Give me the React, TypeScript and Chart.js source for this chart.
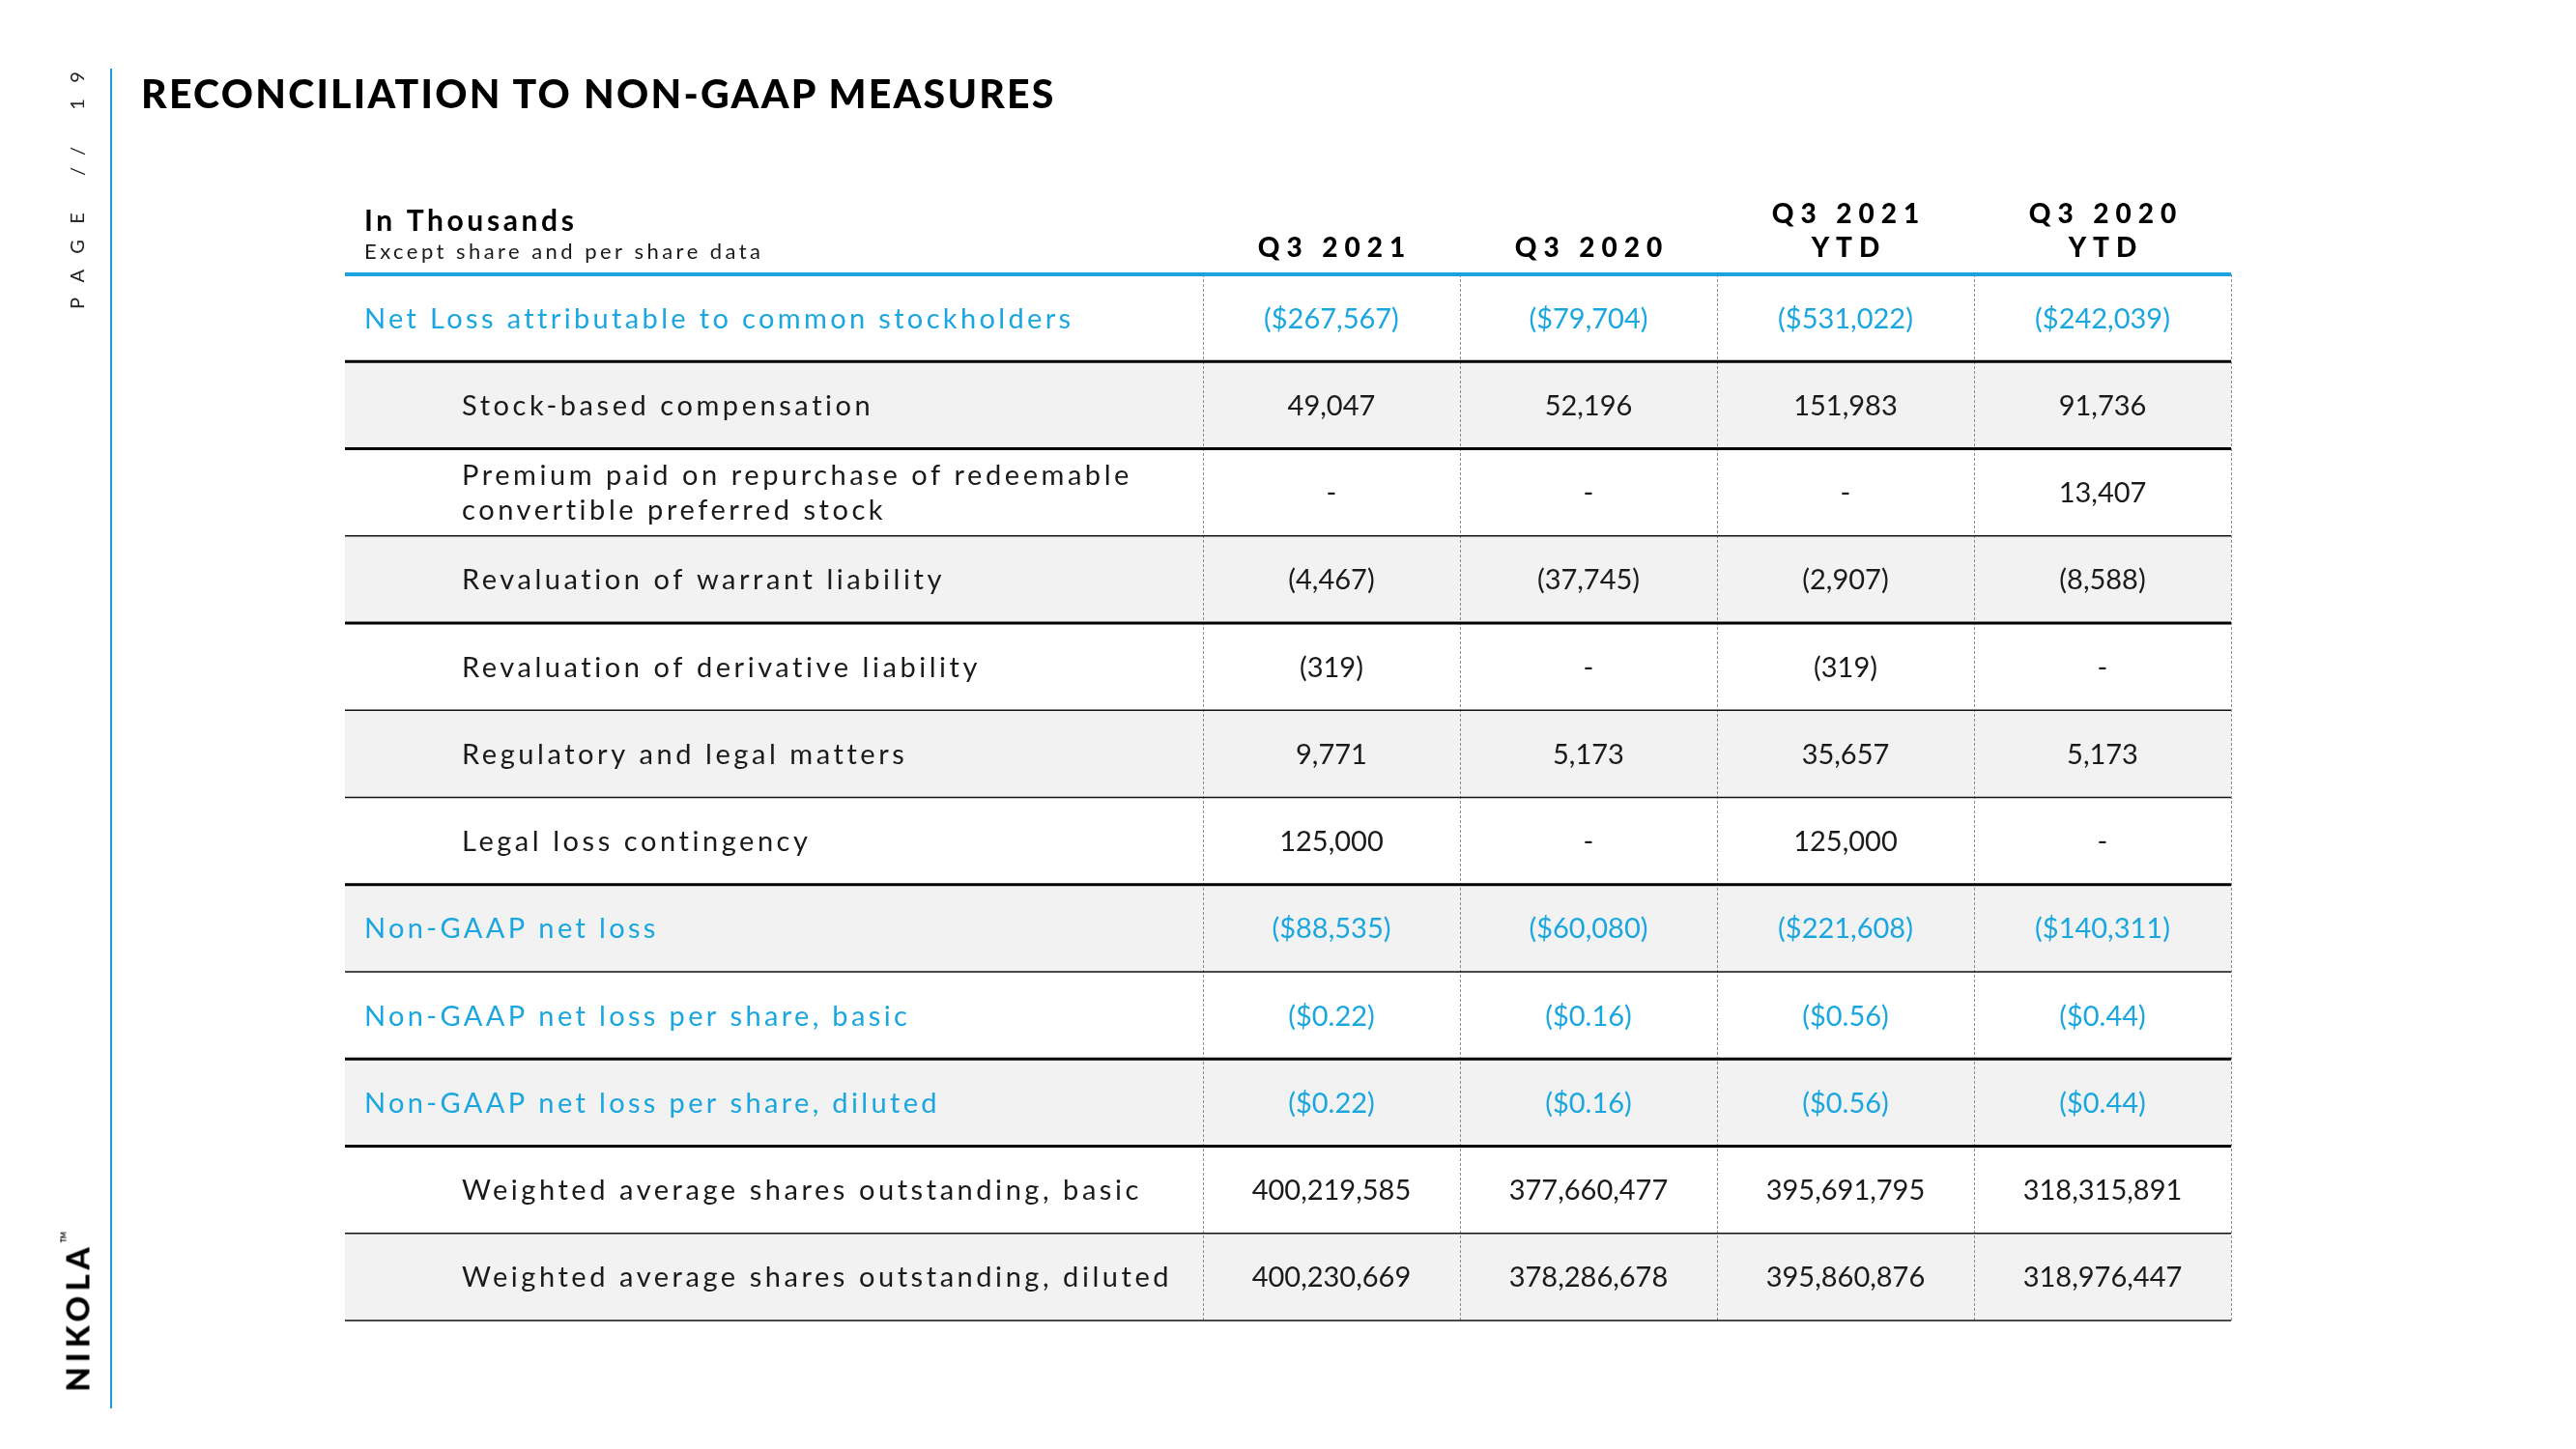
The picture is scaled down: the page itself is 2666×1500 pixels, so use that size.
import React, { useEffect, useRef } from 'react';
import { Chart, registerables } from 'chart.js';

Chart.register(...registerables);

// ---------- data ----------
const ROW_LABELS: (string | string[])[] = [
  'Net Loss attributable to common stockholders',
  'Stock-based compensation',
  ['Premium paid on repurchase of redeemable', 'convertible preferred stock'],
  'Revaluation of warrant liability',
  'Revaluation of derivative liability',
  'Regulatory and legal matters',
  'Legal loss contingency',
  'Non-GAAP net loss',
  'Non-GAAP net loss per share, basic',
  'Non-GAAP net loss per share, diluted',
  'Weighted average shares outstanding, basic',
  'Weighted average shares outstanding, diluted',
];

// 'total' rows are highlighted, shown in dollars and not indented
const ROW_KIND = ['total', 'item', 'item', 'item', 'item', 'item', 'item', 'total', 'total', 'total', 'item', 'item'];

const COLUMN_HEADERS = [['Q3 2021'], ['Q3 2020'], ['Q3 2021', 'YTD'], ['Q3 2020', 'YTD']];

const Q3_2021 = [-267567, 49047, null, -4467, -319, 9771, 125000, -88535, -0.22, -0.22, 400219585, 400230669];
const Q3_2020 = [-79704, 52196, null, -37745, null, 5173, null, -60080, -0.16, -0.16, 377660477, 378286678];
const Q3_2021_YTD = [-531022, 151983, null, -2907, -319, 35657, 125000, -221608, -0.56, -0.56, 395691795, 395860876];
const Q3_2020_YTD = [-242039, 91736, 13407, -8588, null, 5173, null, -140311, -0.44, -0.44, 318315891, 318976447];
const SERIES = [Q3_2021, Q3_2020, Q3_2021_YTD, Q3_2020_YTD];

const HEADER_TITLE = 'In Thousands';
const HEADER_SUBTITLE = 'Except share and per share data';
const PAGE_TITLE = 'RECONCILIATION TO NON-GAAP MEASURES';
const PAGE_MARK = 'PAGE // 19';
const BRAND = 'NIKOLA';

// ---------- styles ----------
// border under each edge: index 0 = top of table, k = bottom of row k-1
const BORDER_STYLES = ['accent', 'heavy', 'heavy', 'light', 'heavy', 'light', 'light', 'heavy', 'light', 'heavy', 'heavy', 'light', 'light'];
const LINE_STYLE: Record<string, { color: string; width: number }> = {
  accent: { color: '#1aa3de', width: 4 },
  heavy: { color: '#000000', width: 3 },
  light: { color: '#111111', width: 1.4 },
};
const CYAN = '#1aa6df';
const INK = '#1a1a1a';
const SHADE = '#f2f2f2';
const LABEL_SPAN = 3.338; // label column width in units of a value column
const FONT = 'Lato, "Open Sans", sans-serif';

function fmt(v: number | null, currency: boolean): string {
  if (v === null || v === undefined) return '-';
  const abs = Math.abs(v);
  const dec = Number.isInteger(abs) ? 0 : 2;
  const s = abs.toLocaleString('en-US', { minimumFractionDigits: dec, maximumFractionDigits: dec });
  const body = (currency ? '$' : '') + s;
  return v < 0 ? `(${body})` : body;
}

function drawSpaced(ctx: CanvasRenderingContext2D, text: string, x: number, y: number, align: CanvasTextAlign, spacing: number) {
  (ctx as any).letterSpacing = spacing + 'px';
  ctx.textAlign = align;
  const dx = align === 'center' ? spacing / 2 : align === 'right' ? spacing : 0;
  ctx.fillText(text, x + dx, y);
  (ctx as any).letterSpacing = '0px';
}

const tablePlugin = {
  id: 'tableCells',
  afterDatasetsDraw(chart: any) {
    const { ctx, chartArea: area, scales } = chart;
    const xs = scales.x;
    const ys = scales.y;
    const n = ROW_LABELS.length;
    const band = ys.getPixelForValue(1) - ys.getPixelForValue(0);
    const edge = (i: number) => (i < n ? ys.getPixelForValue(i) - band / 2 : ys.getPixelForValue(n - 1) + band / 2);
    const ncol = SERIES.length;
    ctx.save();

    // dashed column separators
    ctx.strokeStyle = '#8c8c8c';
    ctx.lineWidth = 1;
    ctx.setLineDash([3, 2]);
    for (let c = 0; c <= ncol; c++) {
      const px = Math.round(xs.getPixelForValue(c)) + 0.5;
      ctx.beginPath();
      ctx.moveTo(px, area.top);
      ctx.lineTo(px, area.bottom);
      ctx.stroke();
    }
    ctx.setLineDash([]);

    // row borders
    BORDER_STYLES.forEach((s, i) => {
      const st = LINE_STYLE[s];
      const py = edge(i);
      ctx.strokeStyle = st.color;
      ctx.lineWidth = st.width;
      ctx.beginPath();
      ctx.moveTo(area.left, py);
      ctx.lineTo(area.right, py);
      ctx.stroke();
    });

    // header block
    const labelLeft = xs.getPixelForValue(-LABEL_SPAN);
    ctx.textBaseline = 'alphabetic';
    ctx.fillStyle = '#000';
    ctx.font = `700 30px ${FONT}`;
    drawSpaced(ctx, HEADER_TITLE, labelLeft + 20, area.top - 45, 'left', 3.6);
    ctx.font = `400 22px ${FONT}`;
    ctx.fillStyle = INK;
    drawSpaced(ctx, HEADER_SUBTITLE, labelLeft + 20, area.top - 16, 'left', 3.45);

    ctx.fillStyle = '#000';
    ctx.font = `900 28px ${FONT}`;
    COLUMN_HEADERS.forEach((lines, c) => {
      const cx = xs.getPixelForValue(c + 0.5);
      lines.forEach((ln, k) => {
        const base = area.top - 18 - (lines.length - 1 - k) * 35;
        drawSpaced(ctx, ln, cx, base, 'center', 7);
      });
    });

    // body
    const size = 29;
    const cap = size * 0.72;
    ROW_LABELS.forEach((label, r) => {
      const cy = ys.getPixelForValue(r);
      const total = ROW_KIND[r] === 'total';
      ctx.fillStyle = total ? CYAN : INK;
      ctx.font = `400 ${size}px ${FONT}`;
      const lines = Array.isArray(label) ? label : [label];
      lines.forEach((ln, k) => {
        const base = cy + (k - (lines.length - 1) / 2) * 36 + cap / 2;
        drawSpaced(ctx, ln, labelLeft + (total ? 20 : 121), base, 'left', total ? 3.35 : 3.55);
      });
      SERIES.forEach((vals, c) => {
        drawSpaced(ctx, fmt(vals[r], total), xs.getPixelForValue(c + 0.5), cy + cap / 2, 'center', 0);
      });
    });
    ctx.restore();
  },
};

function Rotated(props: { cx: number; cy: number; w: number; h: number; style: React.CSSProperties; children: React.ReactNode }) {
  const { cx, cy, w, h, style, children } = props;
  return (
    <div
      style={{
        position: 'absolute',
        left: cx - w / 2,
        top: cy - h / 2,
        width: w,
        height: h,
        lineHeight: h + 'px',
        textAlign: 'center',
        whiteSpace: 'nowrap',
        boxSizing: 'border-box',
        transform: 'rotate(-90deg)',
        ...style,
      }}
    >
      {children}
    </div>
  );
}

export default function App() {
  const ref = useRef<HTMLCanvasElement>(null);
  useEffect(() => {
    if (!ref.current) return;
    const chart = new Chart(ref.current, {
      type: 'bar',
      data: {
        labels: ROW_LABELS as any,
        datasets: [
          {
            label: 'rows',
            data: ROW_LABELS.map(() => [-LABEL_SPAN, SERIES.length]) as any,
            backgroundColor: ROW_LABELS.map((_, i) => (i % 2 === 1 ? SHADE : 'rgba(255,255,255,0)')),
            borderWidth: 0,
            barPercentage: 1,
            categoryPercentage: 1,
          },
        ],
      },
      options: {
        indexAxis: 'y',
        responsive: false,
        animation: false,
        events: [],
        layout: { padding: { left: 357, right: 357, top: 284, bottom: 133 } },
        scales: {
          x: { type: 'linear', min: -LABEL_SPAN, max: SERIES.length, display: false },
          y: { type: 'category', display: false, offset: true },
        },
        plugins: { legend: { display: false }, tooltip: { enabled: false }, title: { display: false } },
      },
      plugins: [tablePlugin],
    });
    return () => chart.destroy();
  }, []);

  return (
    <div style={{ position: 'absolute', left: 0, top: 0, width: 2666, height: 1500, background: '#fff', overflow: 'hidden' }}>
      <canvas ref={ref} width={2666} height={1500} style={{ position: 'absolute', left: 0, top: 0 }} />
      <div
        style={{
          position: 'absolute',
          left: 146,
          top: 76,
          font: `900 41px ${FONT}`,
          lineHeight: '41px',
          letterSpacing: '2.25px',
          color: '#000',
          whiteSpace: 'nowrap',
        }}
      >
        {PAGE_TITLE}
      </div>
      <div style={{ position: 'absolute', left: 114, top: 71, width: 2, height: 1387, background: '#1f9bd7' }} />
      <Rotated cx={77} cy={197} w={320} h={20} style={{ font: `400 20px ${FONT}`, letterSpacing: '16.5px', paddingLeft: 16.5, color: '#222' }}>
        {PAGE_MARK}
      </Rotated>
      <Rotated cx={76} cy={1360} w={200} h={33} style={{ font: `900 33px ${FONT}`, letterSpacing: '5px', paddingLeft: 5, color: '#000' }}>
        {BRAND}
        <span style={{ fontSize: 7, letterSpacing: 0, verticalAlign: 'top', lineHeight: '12px' }}>TM</span>
      </Rotated>
    </div>
  );
}
